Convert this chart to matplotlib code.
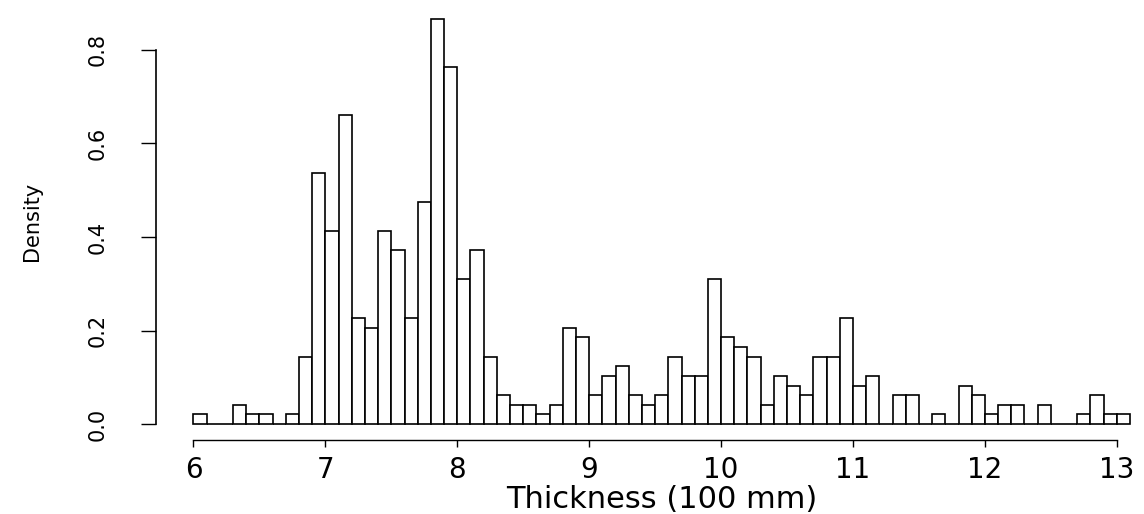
import numpy as np
import matplotlib
matplotlib.use('Agg')
import matplotlib.pyplot as plt

# Histogram of thickness: counts per 0.1 wide bin, starting at 6.0
bin_start = 6.0
bin_width = 0.1
counts = [1, 0, 0, 2, 1, 1, 0, 1, 7, 26,
          20, 32, 11, 10, 20, 18, 11, 23, 42, 37,
          15, 18, 7, 3, 2, 2, 1, 2, 10, 9,
          3, 5, 6, 3, 2, 3, 7, 5, 5, 15,
          9, 8, 7, 2, 5, 4, 3, 7, 7, 11,
          4, 5, 0, 3, 3, 0, 1, 0, 4, 3,
          1, 2, 2, 0, 2, 0, 0, 1, 3, 1,
          1]
x_ticks = [6, 7, 8, 9, 10, 11, 12, 13]
y_ticks = [0.0, 0.2, 0.4, 0.6, 0.8]
y_tick_labels = ['0.0', '0.2', '0.4', '0.6', '0.8']

counts = np.array(counts)
n_total = counts.sum()
lefts = bin_start + bin_width * np.arange(len(counts))
density = counts / (n_total * bin_width)

plt.rcParams['font.family'] = ['DejaVu Sans']

fig = plt.figure(figsize=(11.44, 5.14), dpi=100)
W, H = 1144, 514
# plot region in pixels (R style, cropped at the right edge)
left_px, right_px, top_px, bottom_px = 156, 1144, 2.8, 440.3
ax = fig.add_axes([left_px / W, 1 - bottom_px / H,
                   (right_px - left_px) / W, (bottom_px - top_px) / H])

ax.bar(lefts, density, width=bin_width, align='edge',
       facecolor='white', edgecolor='black', linewidth=1.2)

ax.set_xlim(5.716, 13.206)
ax.set_ylim(-0.0346, 0.9006)

# R-like axes: only left and bottom, spanning first to last tick
for side in ['top', 'right']:
    ax.spines[side].set_visible(False)
ax.spines['left'].set_bounds(0, 0.8)
ax.spines['bottom'].set_bounds(6, 13)
ax.spines['left'].set_linewidth(1.2)
ax.spines['bottom'].set_linewidth(1.0)

ax.set_xticks(x_ticks)
ax.set_xticklabels([str(t) for t in x_ticks], fontsize=20)
ax.tick_params(axis='x', direction='out', length=5, width=1.0, pad=6)

ax.set_yticks(y_ticks)
ax.set_yticklabels(y_tick_labels, fontsize=15, rotation=90, ha='center', va='center')
ax.tick_params(axis='y', direction='out', length=10.8, width=1.0, pad=31)

ax.set_xlabel('Thickness (100 mm)', fontsize=22, va='center')
ax.xaxis.set_label_coords(0.5 * (13.384 - 5.716) / (13.206 - 5.716),
                          (bottom_px - 500) / (bottom_px - top_px))
ax.set_ylabel('Density', fontsize=15, va='center')
ax.yaxis.set_label_coords((32 - left_px) / (right_px - left_px), 0.5)

fig.savefig('out.png', dpi=100)
